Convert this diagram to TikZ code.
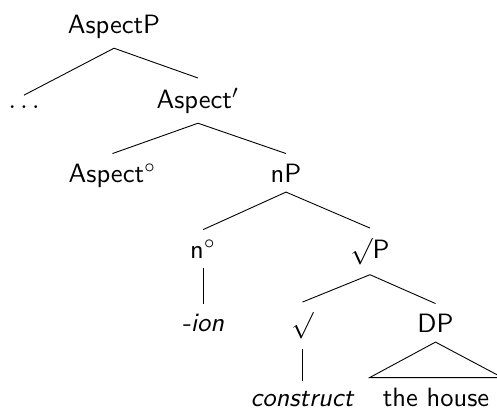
\documentclass[tikz,border=0pt]{standalone}

\begin{document}
\begin{tikzpicture}[x=1pt,y=-1pt,
  lbl/.style={anchor=base,inner sep=3.6pt,scale=2.65,font=\fontsize{10}{12}\selectfont\sffamily},
  edge/.style={line width=0.9pt}]
  \useasboundingbox (0,0) rectangle (497,408);

  % tree nodes
  \node[lbl] (AP)    at (114,33)  {AspectP};
  \node[lbl] (dots)  at (24,108)  {$\ldots$};
  \node[lbl] (Abar)  at (198,108) {Aspect$'$};
  \node[lbl] (Ahead) at (112.5,182) {Aspect$^\circ$};
  \node[lbl] (nP)    at (286,182) {nP};
  \node[lbl] (nhead) at (203,258) {n$^\circ$};
  \node[lbl] (rootP) at (370,258) {$\surd$P};
  \node[lbl] (ion)   at (203,331) {\textit{-ion}};
  \node[lbl] (root)  at (302.5,332) {$\surd$};
  \node[lbl] (DP)    at (435.5,332) {DP};
  \node[lbl] (cons)  at (302.5,406) {\textit{construct}};
  \node[lbl] (house) at (436,406) {the house};

  % branches
  \draw[edge] (AP.south) -- (dots.north);
  \draw[edge] (AP.south) -- (Abar.north);
  \draw[edge] (Abar.south) -- (Ahead.north);
  \draw[edge] (Abar.south) -- (nP.north);
  \draw[edge] (nP.south) -- (nhead.north);
  \draw[edge] (nP.south) -- (rootP.north);
  \draw[edge] (nhead.south) -- (ion.north);
  \draw[edge] (rootP.south) -- (root.north);
  \draw[edge] (rootP.south) -- (DP.north);
  \draw[edge] (root.south) -- (cons.north);
  \draw[edge] (DP.south) -- ([xshift=-3pt]house.north west) -- ([xshift=3pt]house.north east) -- cycle;
\end{tikzpicture}
\end{document}
